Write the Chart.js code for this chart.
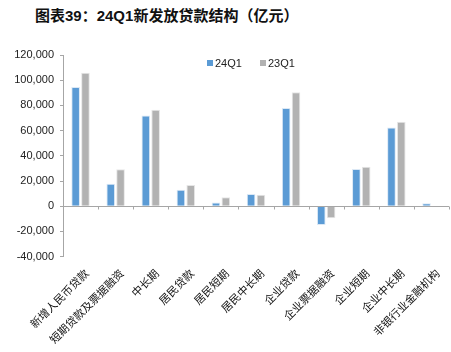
<!DOCTYPE html>
<html>
<head>
<meta charset="utf-8">
<script src="https://cdn.jsdelivr.net/npm/chart.js@4/dist/chart.umd.min.js"></script>
<style>
  body { margin: 0; background: #fff; }
  #wrap { position: relative; width: 451px; height: 352px; }
  #title {
    position: absolute; left: 35px; top: 4px;
    font: bold 15px "Liberation Sans", "Noto Sans CJK SC", sans-serif;
    color: #111;
  }
  #chart { position: absolute; left: 0; top: 0; }
  .legend {
    position: absolute; top: 57px;
    font: 11px "Liberation Sans", sans-serif; color: #222;
  }
  .legend i {
    display: inline-block; width: 6px; height: 6px; margin-right: 2px;
    vertical-align: 1px;
  }
</style>
</head>
<body>
<div id="wrap">
  <div id="title">图表39：24Q1新发放贷款结构（亿元）</div>
  <canvas id="chart" width="451" height="352"></canvas>
  <div class="legend" id="lg0" style="left:207px"></div>
  <div class="legend" id="lg1" style="left:260px"></div>
</div>
<script>
// 24Q1 new loan structure (100 million yuan)
const categories = ['新增人民币贷款', '短期贷款及票据融资', '中长期', '居民贷款', '居民短期', '居民中长期',
    '企业贷款', '企业票据融资', '企业短期', '企业中长期', '非银行业金融机构'];
const seriesNames = ['24Q1', '23Q1'];
const values24Q1 = [94600, 17800, 72000, 13000, 2900, 9800, 77900, -14900, 29600, 62400, 2400];
const values23Q1 = [106000, 29300, 76500, 16800, 7200, 9200, 90400, -9600, 31400, 67000, -700];
const yTicks = [-40000, -20000, 0, 20000, 40000, 60000, 80000, 100000, 120000];
const colors = ['#5b9bd5', '#b2b2b2'];

// zero line with small tick marks between categories
const zeroLine = {
    id: 'zeroLine',
    afterDatasetsDraw(chart) {
        const { ctx, chartArea, scales: { x, y } } = chart;
        const y0 = Math.round(y.getPixelForValue(0)) + 0.5;
        const step = x.getPixelForValue(1) - x.getPixelForValue(0);
        ctx.save();
        ctx.strokeStyle = '#a6a6a6';
        ctx.lineWidth = 1;
        ctx.beginPath();
        ctx.moveTo(chartArea.left, y0);
        ctx.lineTo(chartArea.right, y0);
        for (let i = 0; i < categories.length; i++) {
            const px = Math.round(x.getPixelForValue(i) + step / 2) + 0.5;
            ctx.moveTo(px, y0);
            ctx.lineTo(px, y0 + 3);
        }
        ctx.stroke();
        ctx.restore();
    }
};

// simple html legend
seriesNames.forEach((name, i) => {
    document.getElementById('lg' + i).innerHTML = '<i style="background:' + colors[i] + '"></i>' + name;
});

new Chart(document.getElementById('chart'), {
    type: 'bar',
    data: {
        labels: categories,
        datasets: [{
            label: seriesNames[0],
            data: values24Q1,
            backgroundColor: colors[0],
            borderColor: '#dbe8f5',
            borderWidth: 1
        }, {
            label: seriesNames[1],
            data: values23Q1,
            backgroundColor: colors[1],
            borderColor: '#e6e6e6',
            borderWidth: 1
        }]
    },
    options: {
        responsive: false,
        animation: false,
        layout: { padding: { top: 55, right: 2, left: 0, bottom: 4 } },
        datasets: {
            bar: { categoryPercentage: 0.56, barPercentage: 0.88 }
        },
        scales: {
            x: {
                grid: { display: false },
                border: { display: false },
                ticks: {
                    maxRotation: 45,
                    minRotation: 45,
                    padding: 2,
                    labelOffset: 6,
                    color: '#111',
                    font: { family: '"Noto Sans CJK SC", sans-serif', size: 11 }
                }
            },
            y: {
                min: -40000,
                max: 120000,
                afterBuildTicks(scale) {
                    scale.ticks = yTicks.map(v => ({ value: v }));
                },
                afterFit(scale) {
                    scale.width = 63;
                },
                grid: { drawOnChartArea: false, drawTicks: true, tickLength: 3, color: '#a6a6a6' },
                border: { display: true, color: '#a6a6a6' },
                ticks: {
                    padding: 6,
                    color: '#222',
                    font: { family: '"Liberation Sans", sans-serif', size: 11 },
                    callback: v => v.toLocaleString('en-US')
                }
            }
        },
        plugins: {
            legend: { display: false },
            tooltip: { enabled: false }
        }
    },
    plugins: [zeroLine]
});
</script>
</body>
</html>
